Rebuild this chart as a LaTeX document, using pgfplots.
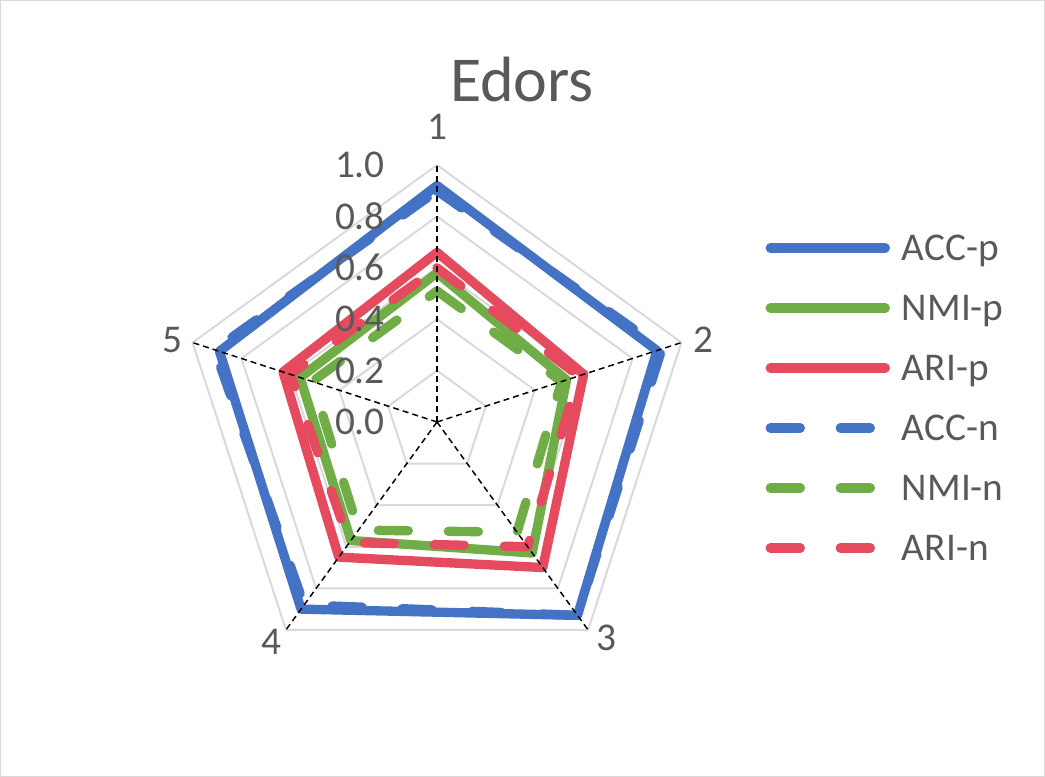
\documentclass[border=0pt]{standalone}
\usepackage{fontspec}
\setmainfont{Carlito}
\usepackage{pgfplots}
\pgfplotsset{compat=1.18}
\usepackage{pgfplotstable}
\definecolor{accblue}{HTML}{4472C4}
\definecolor{nmigreen}{HTML}{70AD47}
\definecolor{arired}{HTML}{E64A5E}
\definecolor{txtgray}{HTML}{595959}
\definecolor{gridgray}{HTML}{D9D9D9}
\newcommand\tickfont{\fontsize{29.5pt}{34pt}\selectfont}
\newcommand\titlefont{\fontsize{48pt}{56pt}\selectfont}

\pgfplotstableread{
a    ACCp NMIp ARIp ACCn NMIn ARIn
90   0.92 0.58 0.66 0.90 0.51 0.60
18   0.90 0.53 0.60 0.92 0.51 0.58
-54  0.93 0.63 0.70 0.93 0.53 0.60
-126 0.90 0.57 0.65 0.88 0.52 0.58
162  0.89 0.56 0.63 0.91 0.51 0.60
}\radar

\tikzset{
  ser/.style={line width=7pt, line cap=round, line join=round},
  dsh/.style={dash pattern=on 22.5pt off 30pt},
}

\begin{document}
\begin{tikzpicture}
\draw[gridgray, line width=0.75pt] (0.375pt,-0.375pt) rectangle (783.375pt,-582.375pt);
\begin{axis}[
  at={(327.75pt,-316.5pt)}, anchor=origin,
  x=192.75pt, y=192.75pt,
  xmin=-1.3, xmax=1.3, ymin=-1.3, ymax=1.3,
  hide axis, clip=false,
  legend style={draw=none, fill=none, at={(0.9918,0.7924)}, anchor=north west,
    inner sep=0pt, outer sep=0pt, font=\tickfont, text=txtgray,
    row sep=13pt, column sep=9pt,
    nodes={text height=25.5pt, text depth=6.5pt, inner sep=0pt}},
  legend cell align=left,
  legend image code/.code={\draw[#1] (0pt,0pt) -- (86.25pt,0pt);},
]
% grid pentagons
\pgfplotsinvokeforeach{0.2,0.4,0.6,0.8,1.0}{
  \draw[gridgray, line width=1.5pt, line join=round]
    (axis cs:{#1*cos(90)},{#1*sin(90)}) -- (axis cs:{#1*cos(18)},{#1*sin(18)})
    -- (axis cs:{#1*cos(-54)},{#1*sin(-54)}) -- (axis cs:{#1*cos(-126)},{#1*sin(-126)})
    -- (axis cs:{#1*cos(162)},{#1*sin(162)}) -- cycle;
}
\addplot[accblue, ser] table[x expr={\thisrow{ACCp}*cos(\thisrow{a})}, y expr={\thisrow{ACCp}*sin(\thisrow{a})}] {\radar} -- cycle;
\addlegendentry{ACC-p}
\addplot[nmigreen, ser] table[x expr={\thisrow{NMIp}*cos(\thisrow{a})}, y expr={\thisrow{NMIp}*sin(\thisrow{a})}] {\radar} -- cycle;
\addlegendentry{NMI-p}
\addplot[arired, ser] table[x expr={\thisrow{ARIp}*cos(\thisrow{a})}, y expr={\thisrow{ARIp}*sin(\thisrow{a})}] {\radar} -- cycle;
\addlegendentry{ARI-p}
\addplot[accblue, ser, dsh] table[x expr={\thisrow{ACCn}*cos(\thisrow{a})}, y expr={\thisrow{ACCn}*sin(\thisrow{a})}] {\radar} -- cycle;
\addlegendentry{ACC-n}
\addplot[nmigreen, ser, dsh] table[x expr={\thisrow{NMIn}*cos(\thisrow{a})}, y expr={\thisrow{NMIn}*sin(\thisrow{a})}] {\radar} -- cycle;
\addlegendentry{NMI-n}
\addplot[arired, ser, dsh] table[x expr={\thisrow{ARIn}*cos(\thisrow{a})}, y expr={\thisrow{ARIn}*sin(\thisrow{a})}] {\radar} -- cycle;
\addlegendentry{ARI-n}
% spokes
\pgfplotsinvokeforeach{90,18,-54,-126,162}{
  \draw[black, line width=1.1pt, dash pattern=on 4.5pt off 3pt] (axis cs:0,0) -- (axis cs:{cos(#1)},{sin(#1)});
}
% radial tick labels
\node[anchor=east, inner sep=0pt, text=txtgray, font=\tickfont] at (axis cs:-0.202,1.0) {1.0};
\node[anchor=east, inner sep=0pt, text=txtgray, font=\tickfont] at (axis cs:-0.202,0.8) {0.8};
\node[anchor=east, inner sep=0pt, text=txtgray, font=\tickfont] at (axis cs:-0.202,0.6) {0.6};
\node[anchor=east, inner sep=0pt, text=txtgray, font=\tickfont] at (axis cs:-0.202,0.4) {0.4};
\node[anchor=east, inner sep=0pt, text=txtgray, font=\tickfont] at (axis cs:-0.202,0.2) {0.2};
\node[anchor=east, inner sep=0pt, text=txtgray, font=\tickfont] at (axis cs:-0.202,0.0) {0.0};
% category labels
\node[inner sep=0pt, text=txtgray, font=\tickfont] at (axis cs:0,1.148) {1};
\node[inner sep=0pt, text=txtgray, font=\tickfont] at (axis cs:1.035,0.319) {2};
\node[inner sep=0pt, text=txtgray, font=\tickfont] at (axis cs:0.658,-0.840) {3};
\node[inner sep=0pt, text=txtgray, font=\tickfont] at (axis cs:-0.646,-0.856) {4};
\node[inner sep=0pt, text=txtgray, font=\tickfont] at (axis cs:-1.031,0.319) {5};
\end{axis}
\node[inner sep=0pt, text=txtgray, font=\titlefont] at (391.5pt,-60pt) {Edors};
\end{tikzpicture}
\end{document}
